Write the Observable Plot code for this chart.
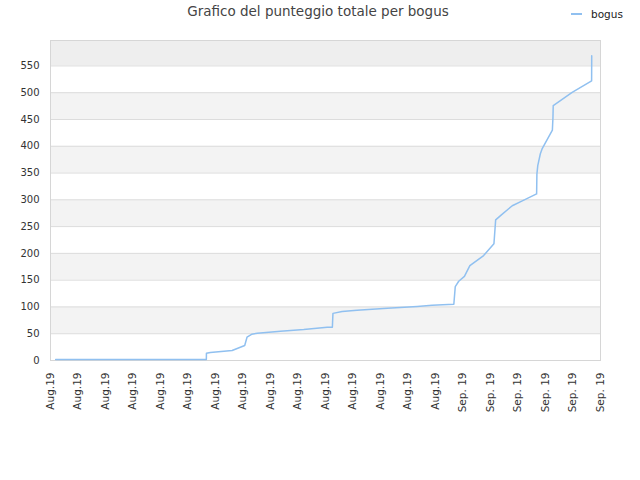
<!DOCTYPE html>
<html>
<head>
<meta charset="utf-8">
<script src="https://cdn.jsdelivr.net/npm/d3@7"></script>
<script src="https://cdn.jsdelivr.net/npm/@observablehq/plot@0.6"></script>
<style>
  html, body { margin: 0; padding: 0; background: #fff; }
  #wrap { position: relative; width: 640px; height: 480px; font-family: "DejaVu Sans", sans-serif; }
  #title { position: absolute; left: 0; width: 636px; top: 3px; text-align: center; font-size: 13.5px; color: #444; }
  #legend { position: absolute; left: 571px; top: 8px; font-size: 10.5px; color: #222; display: flex; align-items: center; }
  #legend .sw { width: 11px; height: 2px; background: #90c0f0; margin-right: 9px; }
  #chart { position: absolute; left: 0; top: 30px; }
</style>
</head>
<body>
<div id="wrap">
  <div id="title">Grafico del punteggio totale per bogus</div>
  <div id="legend"><span class="sw"></span><span>bogus</span></div>
  <div id="chart"></div>
</div>
<script>
const seriesName = "bogus";
const dates = [
  "2019-08-02T09:00Z","2019-08-13T08:00Z","2019-08-13T08:10Z","2019-08-13T15:00Z","2019-08-15T05:00Z",
  "2019-08-16T03:00Z","2019-08-16T07:00Z","2019-08-16T15:00Z","2019-08-17T01:00Z","2019-08-18T17:30Z",
  "2019-08-20T10:00Z","2019-08-22T03:00Z","2019-08-22T12:00Z","2019-08-22T13:00Z","2019-08-23T05:00Z",
  "2019-08-24T07:00Z","2019-08-26T12:00Z","2019-08-28T16:00Z","2019-08-29T18:00Z","2019-08-31T08:00Z",
  "2019-08-31T10:30Z","2019-08-31T16:30Z","2019-09-01T02:30Z","2019-09-01T12:00Z","2019-09-02T12:00Z",
  "2019-09-03T06:00Z","2019-09-03T09:00Z","2019-09-03T17:30Z","2019-09-04T14:00Z","2019-09-05T07:30Z",
  "2019-09-06T08:30Z","2019-09-06T09:00Z","2019-09-06T10:30Z","2019-09-06T15:00Z","2019-09-06T18:00Z",
  "2019-09-07T12:00Z","2019-09-07T13:00Z","2019-09-07T13:30Z","2019-09-08T22:30Z","2019-09-10T08:30Z",
  "2019-09-10T08:40Z"
];
const scores = [
  2, 2, 13.6, 15, 18.7,
  28, 43.5, 49, 51, 54.7,
  57.8, 62, 62, 88, 91.4,
  94, 97.6, 101, 103, 105,
  138, 148, 157, 177, 196,
  218, 262.5, 270.5, 289, 298,
  311, 348, 364, 386, 395,
  430, 453, 476, 500.6, 522,
  569
];
const yTicks = [0, 50, 100, 150, 200, 250, 300, 350, 400, 450, 500, 550];
const yMax = 597.5;
const bandLow = [50, 150, 250, 350, 450];
const bandHigh = [100, 200, 300, 400, 500];
const topBandLow = [550];
const topBandHigh = [597.5];
const xTicks = [
  "2019-08-02","2019-08-04","2019-08-06","2019-08-08","2019-08-10","2019-08-12","2019-08-14",
  "2019-08-16","2019-08-18","2019-08-20","2019-08-22","2019-08-24","2019-08-26","2019-08-28",
  "2019-08-30","2019-09-01","2019-09-03","2019-09-05","2019-09-07","2019-09-09","2019-09-11"
];
const xTickLabels = [
  "Aug.19","Aug.19","Aug.19","Aug.19","Aug.19","Aug.19","Aug.19","Aug.19","Aug.19","Aug.19",
  "Aug.19","Aug.19","Aug.19","Aug.19","Aug.19","Sep. 19","Sep. 19","Sep. 19","Sep. 19","Sep. 19","Sep. 19"
];
const xDomain = ["2019-08-02", "2019-09-11"];

const data = dates.map((d, i) => ({date: new Date(d), score: scores[i]}));
const tickDates = xTicks.map(d => new Date(d + "T00:00Z"));
const bands = bandLow.map((v, i) => ({y1: v, y2: bandHigh[i]}));
const topBands = topBandLow.map((v, i) => ({y1: v, y2: topBandHigh[i]}));

const chart = Plot.plot({
  width: 640,
  height: 450,
  marginTop: 10,
  marginBottom: 120,
  marginLeft: 50,
  marginRight: 40,
  style: {fontFamily: "DejaVu Sans, sans-serif", fontSize: "10px", color: "#333", background: "transparent"},
  x: {type: "utc", domain: xDomain.map(d => new Date(d + "T00:00Z"))},
  y: {domain: [0, yMax]},
  marks: [
    Plot.rectY(bands, {y1: "y1", y2: "y2", fill: "#f3f3f3"}),
    Plot.rectY(topBands, {y1: "y1", y2: "y2", fill: "#eeeeee"}),
    Plot.ruleY(yTicks, {stroke: "#dcdcdc", strokeWidth: 1}),
    Plot.frame({stroke: "#d6d6d6"}),
    Plot.line(data, {x: "date", y: "score", stroke: "#90c0f0", strokeWidth: 1.5}),
    Plot.axisY({ticks: yTicks, tickSize: 0, tickPadding: 11, label: null, fill: "#333"}),
    Plot.axisX({ticks: tickDates, tickFormat: (d, i) => xTickLabels[i], tickRotate: -90, tickSize: 0, tickPadding: 12, label: null, fill: "#333", fontSize: 10.5})
  ]
});
document.getElementById("chart").appendChild(chart);
</script>
</body>
</html>
